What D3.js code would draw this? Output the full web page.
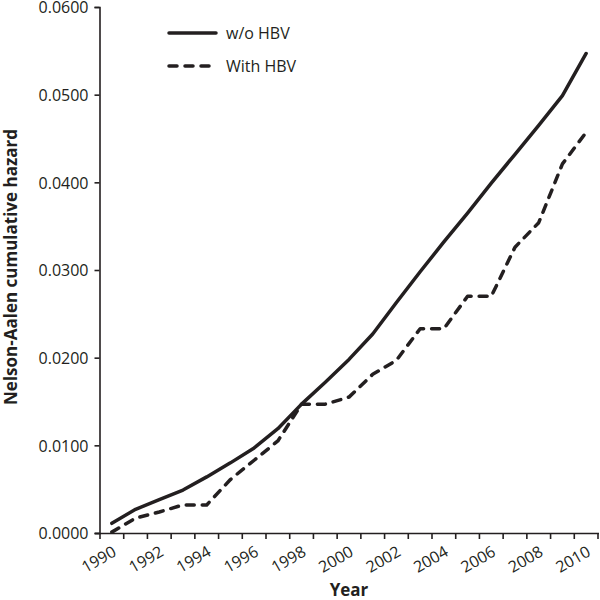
<!DOCTYPE html>
<html>
<head>
<meta charset="utf-8">
<script src="https://cdn.jsdelivr.net/npm/d3@7"></script>
<style>
  body { margin: 0; background: #fff; }
  svg { display: block; font-family: "Open Sans", "Noto Sans", sans-serif; }
</style>
</head>
<body>
<svg id="chart" width="600" height="600"></svg>
<script>
const years = [1990, 1991, 1992, 1993, 1994, 1995, 1996, 1997, 1998, 1999, 2000,
               2001, 2002, 2003, 2004, 2005, 2006, 2007, 2008, 2009, 2010];
const labelYears = [1990, 1992, 1994, 1996, 1998, 2000, 2002, 2004, 2006, 2008, 2010];
const woHBV = [0.0011, 0.0027, 0.0038, 0.0049, 0.0064, 0.0080, 0.0097, 0.0119, 0.0147, 0.0172, 0.0198,
               0.0227, 0.0263, 0.0298, 0.0332, 0.0365, 0.0399, 0.0432, 0.0465, 0.0499, 0.0547];
const withHBV = [0.0001, 0.0017, 0.0024, 0.0032, 0.0032, 0.0061, 0.0083, 0.0105, 0.0147, 0.0147, 0.0155,
                 0.0181, 0.0197, 0.0233, 0.0233, 0.0270, 0.0270, 0.0326, 0.0354, 0.0421, 0.0457];
const yTicks = [0, 0.01, 0.02, 0.03, 0.04, 0.05, 0.06];
const seriesNames = ["w/o HBV", "With HBV"];
const xTitle = "Year";
const yTitle = "Nelson-Aalen cumulative hazard";

const ink = "#231f20";
const svg = d3.select("#chart");
const mLeft = 100, mRight = 598, mTop = 7, mBottom = 533;

const x = d3.scaleBand().domain(years).range([mLeft, mRight]).padding(0);
const y = d3.scaleLinear().domain([0, 0.06]).range([mBottom, mTop]);
const cx = d => x(d) + x.bandwidth() / 2;

// Y axis
const yAxis = d3.axisLeft(y).tickValues(yTicks).tickFormat(d3.format(".4f")).tickSize(5).tickPadding(6);
const gy = svg.append("g").attr("transform", `translate(${mLeft - 0.5},0)`).call(yAxis);
gy.select(".domain").attr("stroke", ink).attr("stroke-width", 1.6);
gy.selectAll(".tick line").attr("stroke", ink).attr("stroke-width", 1.6);
gy.selectAll(".tick text").attr("fill", ink).attr("dy", "0.36em")
  .style("font-size", "16px").style("font-family", "'Open Sans', sans-serif");

// X axis (category boundaries as ticks)
const bounds = years.map(d => x(d)).concat([x(years[years.length - 1]) + x.bandwidth()]);
const gx = svg.append("g");
gx.append("line").attr("x1", mLeft - 5).attr("x2", mRight + 1).attr("y1", mBottom + 0.5).attr("y2", mBottom + 0.5)
  .attr("stroke", ink).attr("stroke-width", 1.6);
gx.selectAll("line.tk").data(bounds).join("line").attr("class", "tk")
  .attr("x1", d => d).attr("x2", d => d).attr("y1", mBottom).attr("y2", mBottom + 6)
  .attr("stroke", ink).attr("stroke-width", 1.6);
gx.selectAll("text").data(labelYears).join("text")
  .attr("transform", d => `translate(${cx(d) + 5.5},${mBottom + 22}) rotate(-30)`)
  .attr("text-anchor", "end")
  .attr("fill", ink)
  .style("font-size", "16px")
  .text(d => d);

// Titles
svg.append("text").attr("x", (mLeft + mRight) / 2).attr("y", 596).attr("text-anchor", "middle")
  .attr("fill", ink).style("font-size", "17px").style("font-weight", "bold").text(xTitle);
svg.append("text").attr("transform", `translate(17,267) rotate(-90)`)
  .attr("text-anchor", "middle").attr("fill", ink)
  .style("font-size", "17px").style("font-weight", "bold").text(yTitle);

// Lines
const line = d3.line().x((d, i) => cx(years[i])).y(d => y(d));
svg.append("path").datum(woHBV).attr("d", line).attr("fill", "none")
  .attr("stroke", ink).attr("stroke-width", 3.5).attr("stroke-linejoin", "round").attr("stroke-linecap", "round");
svg.append("path").datum(withHBV).attr("d", line).attr("fill", "none")
  .attr("stroke", ink).attr("stroke-width", 3.5).attr("stroke-dasharray", "8,8")
  .attr("stroke-linejoin", "round").attr("stroke-linecap", "round");

// Legend
const legend = svg.append("g");
const legY = [33, 66];
const dashes = [null, "8,8"];
seriesNames.forEach((name, i) => {
  legend.append("line").attr("x1", 169).attr("x2", 216).attr("y1", legY[i]).attr("y2", legY[i])
    .attr("stroke", ink).attr("stroke-width", 3.5).attr("stroke-linecap", "round")
    .attr("stroke-dasharray", dashes[i]);
  legend.append("text").attr("x", 226).attr("y", legY[i]).attr("dy", "0.35em")
    .attr("fill", ink).style("font-size", "16px").text(name);
});
</script>
</body>
</html>
